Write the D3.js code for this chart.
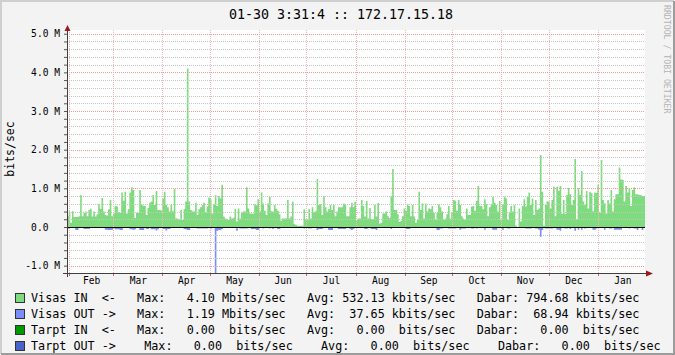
<!DOCTYPE html>
<html>
<head>
<meta charset="utf-8">
<script src="https://cdn.jsdelivr.net/npm/d3@7"></script>
<style>
body { margin: 0; background: #f3f3f3; }
svg text { font-family: "DejaVu Sans Mono", monospace; white-space: pre; }
</style>
</head>
<body>
<script>
// daily traffic, Mbit/s (Jan 30 -> Jan 30)
const visasIn = [
 0.28,0.41,0.11,0.41,0.26,0.26,0.26,0.28,0.83,0.28,
 0.37,0.40,0.28,0.44,0.47,0.27,0.40,0.27,0.33,0.60,
 0.47,0.75,0.40,0.31,0.30,0.46,0.70,0.28,0.35,0.54,
 0.53,0.38,0.37,0.89,0.68,0.91,0.35,0.46,0.89,1.03,
 0.96,0.23,0.37,0.37,0.96,0.59,0.55,0.55,0.31,0.50,
 0.63,0.66,0.83,0.57,0.93,0.44,0.44,0.43,0.74,0.91,
 0.57,0.51,0.40,0.57,0.41,0.98,0.22,0.22,0.18,0.44,
 0.18,0.46,
 0.66,4.10,0.66,0.44,0.41,0.40,0.63,0.31,0.46,0.51,
 0.56,0.63,0.37,0.53,0.76,0.72,0.35,0.59,0.83,0.54,
 0.80,0.74,1.09,0.27,0.22,0.20,0.18,0.27,0.22,0.24,
 0.47,0.14,0.48,0.22,0.37,0.41,0.40,1.03,0.48,0.35,
 0.35,0.34,0.59,0.56,0.72,0.40,0.89,0.61,0.42,0.31,
 0.61,0.78,0.41,0.40,0.57,0.47,0.42,0.33,0.16,0.22,
 0.22,0.22,0.70,0.22,0.27,0.65,0.08,0.05,0.03,0.03,
 0.03,0.03,0.46,0.20,0.18,0.46,0.22,0.51,0.39,0.41,
 1.24,0.57,0.59,0.31,0.80,0.51,0.40,0.46,0.57,0.44,
 0.57,0.28,0.40,0.51,0.51,0.51,0.61,0.59,0.28,0.28,
 0.51,0.63,0.51,0.65,0.18,0.22,0.22,0.70,0.54,0.27,
 0.67,0.22,0.49,0.20,0.20,0.57,0.27,0.62,0.09,0.11,
 0.35,0.35,0.40,0.28,0.23,0.80,1.50,0.44,0.44,0.33,
 0.13,0.16,0.28,0.48,0.42,0.59,0.54,0.28,0.57,0.27,
 0.11,
 0.18,0.91,0.44,0.61,0.22,0.61,0.40,0.48,0.46,0.54,
 0.37,0.18,0.37,0.59,0.51,0.40,0.18,0.22,0.33,0.54,
 0.22,0.37,0.70,0.68,0.42,0.70,0.57,0.28,0.22,0.18,
 0.48,0.31,0.31,0.53,0.54,0.42,0.67,1.06,0.54,0.54,
 0.46,0.72,0.59,0.28,0.51,0.59,0.78,0.63,0.57,0.40,
 0.67,0.18,0.59,0.78,0.74,0.18,0.37,0.54,0.40,0.57,
 0.03,0,0.48,0.14,0.54,0.72,0.53,0.78,0.89,0.57,
 0.74,0.31,0.70,0.44,0.48,1.86,0.91,0.03,0.57,0.66,
 0.66,0.48,0.70,1.04,0.28,1.04,0.94,1.06,0.34,0.70,
 0.34,0.83,1.01,0.85,0.57,0.70,1.76,0.20,1.00,0.83,
 1.45,0.66,0.57,0.93,0.48,0.91,0.87,0.41,0.89,0.88,
 1.09,0.37,1.73,0.70,0.61,0.35,0.70,0.61,0.96,0.40,
 0.72,0.85,0.85,1.54,1.23,1.22,0.66,1.06,0.89,1.00,
 0.54,0.96,1.03,0.85,0.85,0.83,0.83,0.80,0.80
];

const visasOut = [
 0.05,0,0,0,0,0.08,0.08,0,0,0,
 0.05,0.05,0.05,0.05,0,0,0,0,0,0,
 0,0,0,0.07,0.07,0.08,0.08,0.07,0,0.06,
 0.06,0.06,0.08,0.08,0,0,0,0,0.06,0.06,
 0.08,0.06,0,0,0.08,0.08,0.08,0,0.05,0.05,
 0,0.06,0.06,0.06,0.09,0.06,0,0,0.05,0.05,
 0.09,0.05,0.05,0,0,0,0,0,0,0,
 0,0.05,
 0.06,0.08,0.08,0,0,0,0,0.04,0.04,0.04,
 0.04,0.04,0.04,0.04,0,0.06,0,0,1.19,0.10,
 0.08,0.08,0.05,0,0,0,0,0,0,0,
 0,0.10,0,0.04,0.04,0.04,0.04,0.04,0,0,
 0.05,0.05,0.05,0.08,0.08,0,0,0.04,0,0,
 0,0.04,0,0.05,0,0,0.05,0.05,0,0,
 0,0,0,0,0,0,0,0,0,0,
 0,0,0.04,0,0,0.04,0.04,0,0,0,
 0.08,0.05,0.05,0.05,0,0,0,0.08,0.08,0.08,
 0,0,0,0.05,0.05,0.05,0.05,0.05,0,0,
 0.05,0.08,0.05,0,0,0,0,0,0,0.05,
 0.05,0,0,0.05,0.05,0.05,0.08,0,0,0,
 0,0,0,0,0,0.05,0,0,0,0,
 0,0,0,0,0.05,0.05,0.05,0,0,0,
 0,
 0,0,0,0,0,0,0,0,0,0,
 0,0,0.08,0.08,0.04,0.04,0,0,0,0.04,
 0.04,0.04,0.04,0.04,0,0,0.07,0.04,0.04,0.04,
 0,0,0,0.04,0.04,0,0.04,0,0,0,
 0,0.07,0,0,0,0,0.07,0.07,0.07,0,
 0,0,0.07,0,0,0.04,0.04,0,0,0,
 0,0,0,0,0,0,0.04,0.04,0.04,0.04,
 0,0,0.04,0.04,0.07,0.25,0.08,0,0.04,0.04,
 0.04,0.04,0.04,0,0,0.07,0.07,0.10,0,0,
 0.04,0.04,0,0.05,0,0,0.10,0,0.07,0,
 0.07,0,0.04,0,0,0,0,0.07,0.07,0.04,
 0,0,0,0,0.07,0,0,0.04,0.04,0,
 0.07,0.07,0.07,0.07,0.07,0,0,0,0,0.04,
 0,0,0.04,0.04,0.08,0,0,0.08,0
];

const monthLabels = ["Feb","Mar","Apr","May","Jun","Jul","Aug","Sep","Oct","Nov","Dec","Jan"];
const yLabelTicks = [-1, 0, 1, 2, 3, 4, 5];

const legendLines = [
 "Visas IN  <-   Max:   4.10 Mbits/sec   Avg: 532.13 kbits/sec   Dabar: 794.68 kbits/sec",
 "Visas OUT ->   Max:   1.19 Mbits/sec   Avg:  37.65 kbits/sec   Dabar:  68.94 kbits/sec",
 "Tarpt IN  <-   Max:   0.00  bits/sec   Avg:   0.00  bits/sec   Dabar:   0.00  bits/sec",
 "Tarpt OUT ->    Max:   0.00  bits/sec    Avg:   0.00  bits/sec    Dabar:   0.00  bits/sec"
];
const legendColors = ["#7edc7e", "#7b8ef7", "#009a00", "#4a63c6"];

function draw() {
const width = 675, height = 355;
const left = 67, right = 645, top = 30, bottom = 273;

const svg = d3.select("body")
	.append("svg")
	.attr("width", width)
	.attr("height", height);

svg.append("rect").attr("width", width).attr("height", height).attr("fill", "#f3f3f3");
// 3d shade border
svg.append("path").attr("d", "M1,354 V1 H674").attr("fill", "none").attr("stroke", "#cfcfcf").attr("stroke-width", 2);
svg.append("path").attr("d", "M1,354 H674 V1").attr("fill", "none").attr("stroke", "#9c9c9c").attr("stroke-width", 2);

svg.append("rect")
	.attr("x", left).attr("y", top)
	.attr("width", right - left).attr("height", bottom - top)
	.attr("fill", "#ffffff");

const x = d3.scaleTime()
	.domain([new Date(2013, 0, 30, 3, 31), new Date(2014, 0, 30, 3, 31)])
	.range([left - 1, right - 1]);
const xi = d3.scaleLinear().domain([0, visasIn.length]).range([left, right]);
const y = d3.scaleLinear().domain([-1.19, 5.096]).range([bottom, top]);

const stepArea = d3.area()
	.curve(d3.curveStepAfter)
	.x((d, i) => xi(i))
	.y0(y(0));

svg.append("path")
	.attr("d", stepArea.y1(d => y(d))(visasIn.concat([visasIn[visasIn.length - 1]])))
	.attr("fill", legendColors[0]);
svg.append("path")
	.attr("d", stepArea.y1(d => y(-d))(visasOut.concat([visasOut[visasOut.length - 1]])))
	.attr("fill", legendColors[1]);

// grid, drawn over the areas like rrdtool does
const monthStarts = d3.timeMonth.range(new Date(2013, 1, 1), new Date(2014, 1, 1));
const monthMids = monthStarts.map(d => new Date((+d + +d3.timeMonth.offset(d, 1)) / 2));
const yMinor = d3.range(-1, 5.01, 0.2).filter(v => Math.abs(v - Math.round(v)) > 1e-6);

const gMinor = svg.append("g")
	.attr("transform", `translate(${left},0)`)
	.call(d3.axisLeft(y).tickValues(yMinor).tickSize(-(right - left)).tickFormat(""));
const gMajor = svg.append("g")
	.attr("transform", `translate(${left},0)`)
	.call(d3.axisLeft(y).tickValues(yLabelTicks).tickSize(-(right - left)).tickFormat(""));
[gMinor, gMajor].forEach(g => {
	g.select(".domain").remove();
	g.attr("shape-rendering", "crispEdges");
});
gMinor.selectAll("line").style("stroke", "#c6c6c6").style("stroke-dasharray", "1 1");
gMajor.selectAll("line").style("stroke", "#ee9a9a").style("stroke-dasharray", "1 1");

svg.append("g")
	.selectAll("line")
	.data(monthStarts)
	.enter()
	.append("line")
	.attr("x1", d => Math.round(x(d)) + 0.5)
	.attr("x2", d => Math.round(x(d)) + 0.5)
	.attr("y1", top)
	.attr("y2", bottom)
	.style("stroke", "#f2b4b4")
	.style("stroke-dasharray", "1 1");

// zero line
svg.append("line")
	.attr("x1", left).attr("x2", right)
	.attr("y1", Math.round(y(0)) + 0.5).attr("y2", Math.round(y(0)) + 0.5)
	.attr("stroke", "#000");

// axes
const yAxis = svg.append("g")
	.attr("transform", `translate(${left},0)`)
	.call(d3.axisLeft(y).tickValues(yMinor.concat(yLabelTicks)).tickSize(3).tickFormat(""));
yAxis.select(".domain").remove();
yAxis.selectAll("line").attr("stroke", "#555");

const yLabels = svg.append("g")
	.attr("transform", `translate(${left},0)`)
	.call(d3.axisLeft(y).tickValues(yLabelTicks).tickSize(3).tickPadding(4)
		.tickFormat(d => d === 0 ? "0.0\u00a0\u00a0" : d.toFixed(1) + " M"));
yLabels.select(".domain").remove();
yLabels.selectAll("line").remove();
yLabels.selectAll("text").attr("font-family", "DejaVu Sans Mono").attr("font-size", "9.6px").attr("fill", "#000");

svg.append("g")
	.selectAll("line")
	.data(monthStarts)
	.enter()
	.append("line")
	.attr("x1", d => Math.round(x(d)) + 0.5)
	.attr("x2", d => Math.round(x(d)) + 0.5)
	.attr("y1", bottom)
	.attr("y2", bottom + 3)
	.attr("stroke", "#d06060");

const xLabels = svg.append("g")
	.attr("transform", `translate(0,${bottom})`)
	.call(d3.axisBottom(x).tickValues(monthMids).tickSize(0).tickPadding(4)
		.tickFormat((d, i) => monthLabels[i]));
xLabels.select(".domain").remove();
xLabels.selectAll("text").attr("font-family", "DejaVu Sans Mono").attr("font-size", "9.6px").attr("fill", "#000");

svg.append("line").attr("x1", left + 0.5).attr("x2", left + 0.5).attr("y1", bottom + 4).attr("y2", 29)
	.attr("stroke", "#404040");
svg.append("line").attr("x1", left - 4).attr("x2", 648).attr("y1", bottom + 0.5).attr("y2", bottom + 0.5)
	.attr("stroke", "#404040");
svg.append("path").attr("d", "M67.5,25 L64.5,31 L70.5,31 Z").attr("fill", "#a01818");
svg.append("path").attr("d", "M653,273.5 L646,270.5 L646,276.5 Z").attr("fill", "#a01818");

// texts
svg.append("text")
	.attr("x", 341).attr("y", 18.5)
	.attr("text-anchor", "middle")
	.attr("font-size", "13.3px")
	.text("01-30 3:31:4 :: 172.17.15.18");

svg.append("text")
	.attr("transform", "translate(14,149) rotate(-90)")
	.attr("text-anchor", "middle")
	.attr("font-size", "11.5px")
	.text("bits/sec");

svg.append("text")
	.attr("transform", "translate(664,5) rotate(90)")
	.attr("font-size", "8.2px")
	.attr("fill", "#b4b4b4")
	.text("RRDTOOL / TOBI OETIKER");

const legend = svg.append("g");
legend.selectAll("rect")
	.data(legendLines)
	.enter()
	.append("rect")
	.attr("x", 15.5).attr("y", (d, i) => 293.5 + i * 16)
	.attr("width", 9).attr("height", 9)
	.attr("fill", (d, i) => legendColors[i])
	.attr("stroke", "#333");
legend.selectAll("text")
	.data(legendLines)
	.enter()
	.append("text")
	.attr("x", 31).attr("y", (d, i) => 302.3 + i * 16)
	.attr("font-size", "11.76px")
	.text(d => d);
}
window.onload = draw;
</script>
</body>
</html>
